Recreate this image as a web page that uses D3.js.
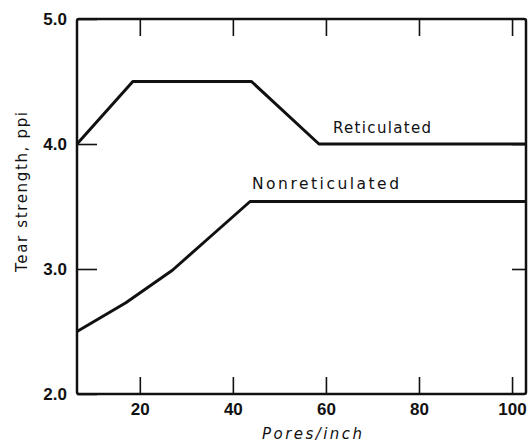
<!DOCTYPE html>
<html>
<head>
<meta charset="utf-8">
<script src="https://cdn.jsdelivr.net/npm/d3@7"></script>
<style>
  body { margin: 0; background: #fff; }
  svg { display: block; }
  text { font-family: "DejaVu Sans", "Liberation Sans", sans-serif; fill: #111; }
</style>
</head>
<body>
<div id="chart"></div>
<script>
// data
const xTicks = [20, 40, 60, 80, 100];
const yTicks = [2.0, 3.0, 4.0, 5.0];
const reticX = [6.5, 18.5, 44, 58.5, 103];
const reticY = [4.0, 4.5, 4.5, 4.0, 4.0];
const nonretX = [6.5, 17, 27, 35.5, 43.7, 103];
const nonretY = [2.5, 2.73, 2.99, 3.27, 3.54, 3.54];

const width = 528, height = 446;

const svg = d3.select('#chart')
    .append('svg')
    .attr('width', width)
    .attr('height', height);

const x = d3.scaleLinear().domain([6.5, 103]).range([77, 526]);
const y = d3.scaleLinear().domain([2, 5]).range([394, 19]);

const ink = '#111';

// axes (ticks point inward)
const axBottom = svg.append('g')
    .attr('transform', `translate(0,${y(2)})`)
    .call(d3.axisBottom(x).tickValues(xTicks).tickSizeInner(-17).tickSizeOuter(0).tickPadding(9).tickFormat(d3.format('d')));

const axTop = svg.append('g')
    .attr('transform', `translate(0,${y(5)})`)
    .call(d3.axisTop(x).tickValues(xTicks).tickSizeInner(-17).tickSizeOuter(0).tickFormat(''));

const axLeft = svg.append('g')
    .attr('transform', `translate(${x(6.5)},0)`)
    .call(d3.axisLeft(y).tickValues(yTicks).tickSizeInner(-20).tickSizeOuter(0).tickPadding(10).tickFormat(d3.format('.1f')));

const axRight = svg.append('g')
    .attr('transform', `translate(${x(103)},0)`)
    .call(d3.axisRight(y).tickValues([3.0, 4.0]).tickSizeInner(-14).tickSizeOuter(0).tickFormat(''));

[axBottom, axTop, axLeft, axRight].forEach(g => {
    g.select('.domain').remove();
    g.selectAll('.tick line').attr('stroke', ink).attr('stroke-width', 1.6);
    g.selectAll('.tick text')
        .style('font-family', '"Liberation Sans", Arial, sans-serif')
        .style('font-size', '17px')
        .style('font-weight', 'bold')
        .attr('fill', ink);
});

// frame
svg.append('rect')
    .attr('x', x(6.5))
    .attr('y', y(5))
    .attr('width', x(103) - x(6.5))
    .attr('height', y(2) - y(5))
    .attr('rx', 2)
    .attr('fill', 'none')
    .attr('stroke', ink)
    .attr('stroke-width', 2.5);

// lines
const line = d3.line()
    .x(d => x(d[0]))
    .y(d => y(d[1]));

svg.append('path')
    .datum(d3.zip(reticX, reticY))
    .attr('d', line)
    .attr('fill', 'none')
    .attr('stroke', ink)
    .attr('stroke-width', 3)
    .attr('stroke-linejoin', 'round');

svg.append('path')
    .datum(d3.zip(nonretX, nonretY))
    .attr('d', line)
    .attr('fill', 'none')
    .attr('stroke', ink)
    .attr('stroke-width', 3)
    .attr('stroke-linejoin', 'round');

// series labels
svg.append('text')
    .attr('x', 333)
    .attr('y', 133)
    .attr('textLength', 98)
    .attr('lengthAdjust', 'spacing')
    .style('font-size', '15px')
    .text('Reticulated');

svg.append('text')
    .attr('x', 252)
    .attr('y', 189)
    .attr('textLength', 147)
    .attr('lengthAdjust', 'spacing')
    .style('font-size', '15.5px')
    .text('Nonreticulated');

// axis titles
svg.append('text')
    .attr('x', 312)
    .attr('y', 439)
    .attr('text-anchor', 'middle')
    .attr('textLength', 100)
    .attr('lengthAdjust', 'spacing')
    .style('font-size', '15px')
    .style('font-style', 'italic')
    .text('Pores/inch');

svg.append('text')
    .attr('transform', 'translate(27,192) rotate(-90)')
    .attr('x', -80)
    .attr('textLength', 160)
    .attr('lengthAdjust', 'spacing')
    .style('font-size', '15px')
    .text('Tear strength, ppi');
</script>
</body>
</html>
